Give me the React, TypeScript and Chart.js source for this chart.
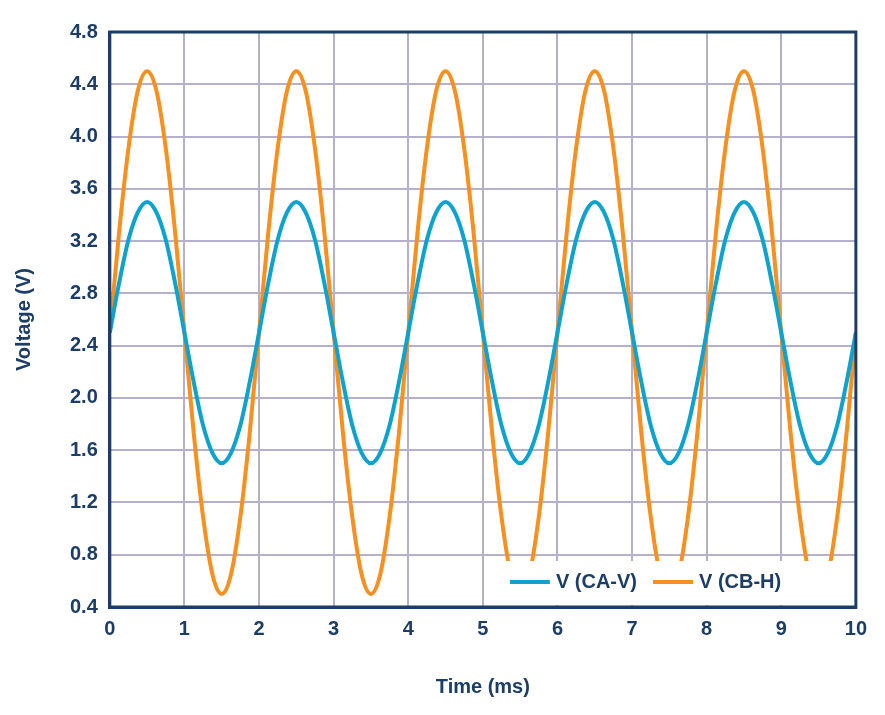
import React, { useEffect, useRef } from "react";
import { Chart, registerables } from "chart.js";
Chart.register(...registerables);

const times: number[] = [];
for (let i = 0; i <= 80; i++) times.push(i * 0.125);

const caV = [
  2.5, 2.88, 3.21, 3.42, 3.5, 3.42, 3.21, 2.88, 2.5, 2.12, 1.79, 1.58, 1.5, 1.58, 1.79, 2.12,
  2.5, 2.88, 3.21, 3.42, 3.5, 3.42, 3.21, 2.88, 2.5, 2.12, 1.79, 1.58, 1.5, 1.58, 1.79, 2.12,
  2.5, 2.88, 3.21, 3.42, 3.5, 3.42, 3.21, 2.88, 2.5, 2.12, 1.79, 1.58, 1.5, 1.58, 1.79, 2.12,
  2.5, 2.88, 3.21, 3.42, 3.5, 3.42, 3.21, 2.88, 2.5, 2.12, 1.79, 1.58, 1.5, 1.58, 1.79, 2.12,
  2.5, 2.88, 3.21, 3.42, 3.5, 3.42, 3.21, 2.88, 2.5, 2.12, 1.79, 1.58, 1.5, 1.58, 1.79, 2.12,
  2.5,
];
const cbH = [
  2.5, 3.27, 3.91, 4.35, 4.5, 4.35, 3.91, 3.27, 2.5, 1.73, 1.09, 0.65, 0.5, 0.65, 1.09, 1.73,
  2.5, 3.27, 3.91, 4.35, 4.5, 4.35, 3.91, 3.27, 2.5, 1.73, 1.09, 0.65, 0.5, 0.65, 1.09, 1.73,
  2.5, 3.27, 3.91, 4.35, 4.5, 4.35, 3.91, 3.27, 2.5, 1.73, 1.09, 0.65, 0.5, 0.65, 1.09, 1.73,
  2.5, 3.27, 3.91, 4.35, 4.5, 4.35, 3.91, 3.27, 2.5, 1.73, 1.09, 0.65, 0.5, 0.65, 1.09, 1.73,
  2.5, 3.27, 3.91, 4.35, 4.5, 4.35, 3.91, 3.27, 2.5, 1.73, 1.09, 0.65, 0.5, 0.65, 1.09, 1.73,
  2.5,
];
const seriesNames = ["V (CA-V)", "V (CB-H)"];
const colors = ["#0ea2cf", "#f7901e"];
const navy = "#1b3d66";
const font = "Liberation Sans, Arial, sans-serif";

const legendPlugin = {
  id: "inlegend",
  afterDatasetsDraw(chart: any) {
    const { ctx, chartArea } = chart;
    const right = chartArea.right - 14;
    const bottom = chartArea.bottom - 2;
    const w = 342;
    const left = right - w;
    const top = bottom - 44;
    ctx.save();
    ctx.fillStyle = "#fff";
    ctx.fillRect(left, top, w, 44);
    ctx.font = `bold 20px ${font}`;
    ctx.textBaseline = "middle";
    const cy = top + 21;
    let x = left + 10;
    seriesNames.forEach((n, i) => {
      ctx.strokeStyle = colors[i];
      ctx.lineWidth = 4;
      ctx.beginPath();
      ctx.moveTo(x, cy);
      ctx.lineTo(x + 40, cy);
      ctx.stroke();
      ctx.fillStyle = navy;
      ctx.fillText(n, x + 46, cy);
      x += 46 + ctx.measureText(n).width + 16;
    });
    ctx.restore();
  },
};

export default function App() {
  const ref = useRef<HTMLCanvasElement>(null);
  useEffect(() => {
    const chart = new Chart(ref.current!, {
      type: "line",
      data: {
        datasets: [caV, cbH].map((arr, i) => ({
          label: seriesNames[i],
          data: arr.map((y, j) => ({ x: times[j], y })),
          borderColor: colors[i],
          borderWidth: 4,
          pointRadius: 0,
          cubicInterpolationMode: "monotone" as const,
        })),
      },
      options: {
        animation: false,
        responsive: false,
        maintainAspectRatio: false,
        layout: { padding: { top: -6, right: 16, left: 0, bottom: 4 } },
        plugins: { legend: { display: false }, tooltip: { enabled: false } },
        scales: {
          x: {
            type: "linear",
            min: 0,
            max: 10,
            ticks: { stepSize: 1, color: navy, padding: 10, font: { family: font, size: 20, weight: "bold" } },
            grid: { color: "#b3b1cb", lineWidth: 2, drawTicks: false },
            border: { color: navy, width: 3 },
            title: { display: true, text: "Time (ms)", color: navy, font: { family: font, size: 20, weight: "bold" }, padding: { top: 24 } },
          },
          y: {
            min: 0.4,
            max: 4.8,
            ticks: { stepSize: 0.4, color: navy, padding: 12, callback: (v: any) => Number(v).toFixed(1), font: { family: font, size: 20, weight: "bold" } },
            grid: { color: "#b3b1cb", lineWidth: 2, drawTicks: false },
            border: { color: navy, width: 3 },
            title: { display: true, text: "Voltage (V)", color: navy, font: { family: font, size: 20, weight: "bold" }, padding: { bottom: 22 } },
          },
        },
      },
      plugins: [
        legendPlugin,
        {
          id: "frame",
          afterDraw(c: any) {
            const { ctx, chartArea: a } = c;
            ctx.save();
            ctx.strokeStyle = navy;
            ctx.lineWidth = 3;
            ctx.strokeRect(a.left, a.top, a.right - a.left, a.bottom - a.top);
            ctx.restore();
          },
        },
      ],
    });
    return () => chart.destroy();
  }, []);
  return <canvas ref={ref} width={869} height={699} style={{ display: "block" }} />;
}
